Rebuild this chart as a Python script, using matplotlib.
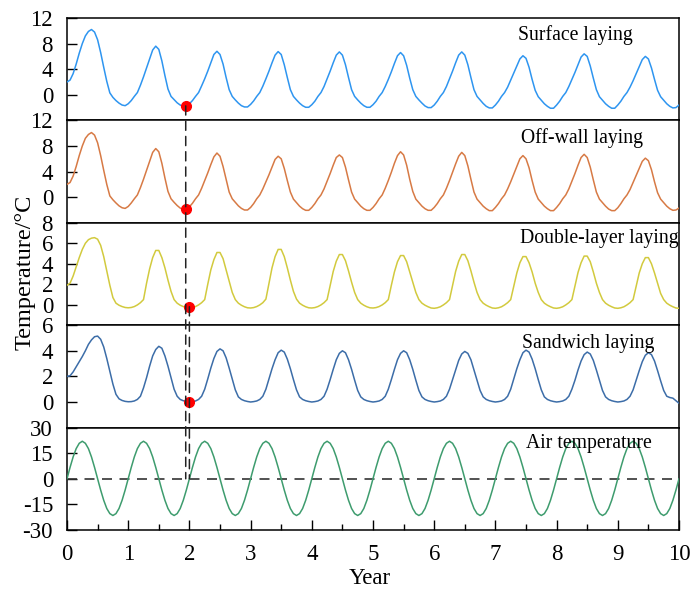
import numpy as np
import matplotlib
matplotlib.use("Agg")
import matplotlib.pyplot as plt
from matplotlib.patches import ConnectionPatch

plt.rcParams['font.family'] = ['Liberation Serif', 'DejaVu Serif']
plt.rcParams['axes.unicode_minus'] = False

# time axis: samples every 0.05 year from 0 to 10
years = np.round(np.arange(201) * 0.05, 2)

surface_laying = [
    2.0, 2.3, 3.3, 4.8, 6.5, 8.0, 9.2, 9.9, 10.2, 9.8, 8.6, 6.6, 4.3, 2.1, 0.3, -0.4, -0.9, -1.3, -1.6, -1.7,
    -1.4, -0.9, -0.25, 0.35, 1.5, 2.8, 4.2, 5.6, 7.0, 7.6, 7.1, 5.3, 3.0, 0.9, -0.25, -0.75, -1.25, -1.6, -1.8, -1.75,
    -1.4, -0.9, -0.25, 0.35, 1.4, 2.5, 3.7, 5.0, 6.3, 6.8, 6.3, 4.8, 2.7, 0.8, -0.25, -0.8, -1.3, -1.7, -1.9, -1.9,
    -1.5, -0.95, -0.25, 0.35, 1.35, 2.5, 3.7, 5.0, 6.2, 6.75, 6.3, 4.7, 2.7, 0.8, -0.25, -0.8, -1.3, -1.7, -1.95, -1.95,
    -1.55, -1.0, -0.25, 0.35, 1.3, 2.5, 3.7, 5.0, 6.2, 6.7, 6.2, 4.7, 2.7, 0.8, -0.25, -0.8, -1.3, -1.7, -1.95, -1.95,
    -1.55, -1.0, -0.25, 0.35, 1.3, 2.4, 3.6, 4.9, 6.1, 6.6, 6.1, 4.6, 2.6, 0.8, -0.25, -0.8, -1.3, -1.75, -2.0, -2.0,
    -1.6, -1.0, -0.25, 0.35, 1.3, 2.5, 3.7, 5.0, 6.2, 6.7, 6.2, 4.7, 2.7, 0.8, -0.25, -0.8, -1.35, -1.8, -2.05, -2.05,
    -1.6, -1.0, -0.25, 0.35, 1.2, 2.3, 3.4, 4.5, 5.6, 6.1, 5.7, 4.3, 2.4, 0.7, -0.3, -0.85, -1.4, -1.8, -2.1, -2.1,
    -1.6, -1.0, -0.25, 0.35, 1.3, 2.4, 3.5, 4.7, 5.9, 6.4, 6.0, 4.5, 2.6, 0.8, -0.3, -0.85, -1.4, -1.8, -2.1, -2.1,
    -1.6, -1.0, -0.25, 0.35, 1.2, 2.2, 3.3, 4.4, 5.5, 6.0, 5.6, 4.2, 2.4, 0.7, -0.3, -0.85, -1.4, -1.8, -2.05, -2.0,
    -1.6,
]

off_wall_laying = [
    2.0, 2.3, 3.3, 4.8, 6.5, 8.0, 9.2, 9.8, 10.1, 9.7, 8.5, 6.5, 4.2, 2.0, 0.2, -0.4, -0.9, -1.35, -1.65, -1.75,
    -1.45, -0.9, -0.25, 0.35, 1.5, 2.8, 4.2, 5.6, 7.0, 7.6, 7.1, 5.3, 3.0, 0.9, -0.25, -0.8, -1.3, -1.7, -1.95, -1.9,
    -1.5, -0.95, -0.25, 0.35, 1.4, 2.6, 3.8, 5.1, 6.3, 6.9, 6.4, 4.8, 2.8, 0.8, -0.25, -0.8, -1.35, -1.75, -2.0, -2.0,
    -1.6, -1.0, -0.25, 0.35, 1.3, 2.4, 3.5, 4.7, 5.9, 6.4, 6.0, 4.5, 2.6, 0.8, -0.3, -0.85, -1.4, -1.8, -2.05, -2.05,
    -1.6, -1.0, -0.25, 0.35, 1.3, 2.5, 3.7, 5.0, 6.2, 6.6, 6.2, 4.7, 2.7, 0.8, -0.3, -0.85, -1.4, -1.8, -2.05, -2.05,
    -1.6, -1.0, -0.25, 0.35, 1.4, 2.6, 3.9, 5.3, 6.5, 7.1, 6.6, 5.0, 2.8, 0.9, -0.3, -0.85, -1.4, -1.8, -2.05, -2.05,
    -1.6, -1.0, -0.25, 0.35, 1.4, 2.6, 3.9, 5.2, 6.4, 7.0, 6.5, 4.9, 2.8, 0.8, -0.3, -0.85, -1.4, -1.8, -2.1, -2.1,
    -1.6, -1.0, -0.25, 0.35, 1.3, 2.4, 3.6, 4.8, 6.0, 6.5, 6.0, 4.6, 2.6, 0.8, -0.3, -0.85, -1.4, -1.8, -2.1, -2.1,
    -1.6, -1.0, -0.25, 0.35, 1.3, 2.5, 3.7, 5.0, 6.2, 6.7, 6.2, 4.7, 2.7, 0.8, -0.3, -0.85, -1.4, -1.85, -2.1, -2.1,
    -1.65, -1.0, -0.25, 0.35, 1.2, 2.3, 3.4, 4.5, 5.6, 6.1, 5.7, 4.3, 2.4, 0.7, -0.3, -0.85, -1.4, -1.8, -2.05, -2.0,
    -1.7,
]

double_layer_laying = [
    1.9, 2.1, 2.8, 3.7, 4.6, 5.4, 6.0, 6.35, 6.5, 6.55, 6.4, 5.8, 4.7, 3.3, 1.9, 0.7, 0.15, -0.05, -0.18, -0.27,
    -0.3, -0.27, -0.18, -0.02, 0.2, 0.5, 2.1, 3.5, 4.6, 5.3, 5.3, 4.6, 3.6, 2.4, 1.3, 0.5, 0.15, -0.05, -0.18, -0.27,
    -0.3, -0.27, -0.18, -0.02, 0.2, 0.5, 2.0, 3.4, 4.4, 5.1, 5.1, 4.5, 3.4, 2.3, 1.2, 0.5, 0.15, -0.05, -0.2, -0.3,
    -0.32, -0.28, -0.18, -0.02, 0.2, 0.55, 2.1, 3.6, 4.7, 5.4, 5.4, 4.7, 3.6, 2.4, 1.3, 0.55, 0.15, -0.05, -0.2, -0.3,
    -0.32, -0.28, -0.18, -0.02, 0.2, 0.5, 1.9, 3.25, 4.25, 4.9, 4.9, 4.3, 3.3, 2.2, 1.2, 0.5, 0.15, -0.05, -0.2, -0.3,
    -0.32, -0.28, -0.18, -0.02, 0.2, 0.5, 1.9, 3.2, 4.2, 4.8, 4.8, 4.2, 3.2, 2.2, 1.2, 0.5, 0.15, -0.05, -0.2, -0.32,
    -0.35, -0.3, -0.2, -0.02, 0.2, 0.5, 1.9, 3.25, 4.25, 4.9, 4.9, 4.3, 3.3, 2.2, 1.2, 0.5, 0.15, -0.05, -0.2, -0.32,
    -0.35, -0.3, -0.2, -0.02, 0.2, 0.5, 1.8, 3.1, 4.1, 4.7, 4.7, 4.1, 3.2, 2.1, 1.2, 0.5, 0.15, -0.05, -0.2, -0.32,
    -0.35, -0.3, -0.2, -0.02, 0.2, 0.5, 1.85, 3.15, 4.1, 4.75, 4.75, 4.2, 3.2, 2.1, 1.2, 0.5, 0.15, -0.05, -0.2, -0.32,
    -0.35, -0.3, -0.2, -0.02, 0.2, 0.5, 1.8, 3.1, 4.0, 4.6, 4.6, 4.0, 3.1, 2.1, 1.1, 0.5, 0.15, -0.05, -0.2, -0.32,
    -0.35,
]

sandwich_laying = [
    2.0, 2.05, 2.35, 2.75, 3.15, 3.55, 4.0, 4.5, 4.85, 5.1, 5.15, 4.9, 4.3, 3.4, 2.4, 1.4, 0.6, 0.25, 0.12, 0.05,
    0.02, 0.03, 0.08, 0.2, 0.45, 1.1, 1.9, 2.8, 3.6, 4.1, 4.35, 4.2, 3.6, 2.8, 1.9, 1.0, 0.45, 0.2, 0.1, 0.05,
    0.0, 0.03, 0.08, 0.2, 0.45, 1.0, 1.8, 2.65, 3.4, 3.95, 4.15, 4.0, 3.45, 2.65, 1.8, 0.95, 0.4, 0.2, 0.1, 0.04,
    0.0, 0.03, 0.08, 0.2, 0.45, 1.0, 1.8, 2.6, 3.3, 3.85, 4.05, 3.9, 3.35, 2.6, 1.75, 0.95, 0.4, 0.2, 0.1, 0.04,
    0.0, 0.03, 0.08, 0.2, 0.45, 1.0, 1.75, 2.55, 3.3, 3.8, 4.0, 3.85, 3.3, 2.55, 1.7, 0.9, 0.4, 0.2, 0.1, 0.04,
    0.0, 0.03, 0.08, 0.2, 0.45, 1.0, 1.75, 2.55, 3.3, 3.8, 4.0, 3.85, 3.3, 2.55, 1.7, 0.9, 0.4, 0.2, 0.1, 0.04,
    0.0, 0.03, 0.08, 0.2, 0.45, 1.0, 1.75, 2.5, 3.25, 3.75, 3.95, 3.8, 3.3, 2.5, 1.7, 0.9, 0.4, 0.2, 0.1, 0.04,
    0.0, 0.03, 0.08, 0.2, 0.45, 1.0, 1.8, 2.6, 3.3, 3.85, 4.05, 3.9, 3.35, 2.6, 1.75, 0.95, 0.4, 0.2, 0.1, 0.04,
    0.0, 0.03, 0.08, 0.2, 0.45, 1.0, 1.7, 2.5, 3.2, 3.7, 3.9, 3.75, 3.25, 2.5, 1.7, 0.9, 0.4, 0.2, 0.1, 0.04,
    0.0, 0.03, 0.08, 0.2, 0.45, 0.95, 1.7, 2.45, 3.15, 3.65, 3.85, 3.7, 3.2, 2.45, 1.65, 0.9, 0.45, 0.35, 0.3, 0.1,
    -0.1,
]

air_temperature = [
    0.0, 6.7, 12.8, 17.7, 20.8, 22.0, 20.8, 17.7, 12.8, 6.7, 0.0, -6.6, -12.6, -17.4, -20.4, -21.5, -20.4, -17.4, -12.6, -6.6,
    0.0, 6.7, 12.8, 17.7, 20.8, 22.0, 20.8, 17.7, 12.8, 6.7, 0.0, -6.6, -12.6, -17.4, -20.4, -21.5, -20.4, -17.4, -12.6, -6.6,
    0.0, 6.7, 12.8, 17.7, 20.8, 22.0, 20.8, 17.7, 12.8, 6.7, 0.0, -6.6, -12.6, -17.4, -20.4, -21.5, -20.4, -17.4, -12.6, -6.6,
    0.0, 6.7, 12.8, 17.7, 20.8, 22.0, 20.8, 17.7, 12.8, 6.7, 0.0, -6.6, -12.6, -17.4, -20.4, -21.5, -20.4, -17.4, -12.6, -6.6,
    0.0, 6.7, 12.8, 17.7, 20.8, 22.0, 20.8, 17.7, 12.8, 6.7, 0.0, -6.6, -12.6, -17.4, -20.4, -21.5, -20.4, -17.4, -12.6, -6.6,
    0.0, 6.7, 12.8, 17.7, 20.8, 22.0, 20.8, 17.7, 12.8, 6.7, 0.0, -6.6, -12.6, -17.4, -20.4, -21.5, -20.4, -17.4, -12.6, -6.6,
    0.0, 6.7, 12.8, 17.7, 20.8, 22.0, 20.8, 17.7, 12.8, 6.7, 0.0, -6.6, -12.6, -17.4, -20.4, -21.5, -20.4, -17.4, -12.6, -6.6,
    0.0, 6.7, 12.8, 17.7, 20.8, 22.0, 20.8, 17.7, 12.8, 6.7, 0.0, -6.6, -12.6, -17.4, -20.4, -21.5, -20.4, -17.4, -12.6, -6.6,
    0.0, 6.7, 12.8, 17.7, 20.8, 22.0, 20.8, 17.7, 12.8, 6.7, 0.0, -6.6, -12.6, -17.4, -20.4, -21.5, -20.4, -17.4, -12.6, -6.6,
    0.0, 6.7, 12.8, 17.7, 20.8, 22.0, 20.8, 17.7, 12.8, 6.7, 0.0, -6.6, -12.6, -17.4, -20.4, -21.5, -20.4, -17.4, -12.6, -6.6,
    0.0,
]

panel_titles = ["Surface laying", "Off-wall laying", "Double-layer laying",
                "Sandwich laying", "Air temperature"]
panel_ylims = [(-4, 12), (-4, 12), (-2, 8), (-2, 6), (-30, 30)]
panel_yticks = [[0, 4, 8, 12], [0, 4, 8, 12], [0, 2, 4, 6, 8], [0, 2, 4, 6], [-30, -15, 0, 15, 30]]
x_ticks = [0, 1, 2, 3, 4, 5, 6, 7, 8, 9, 10]

# red marker points (year, temperature) for panels 1-4
marker_years = [1.94, 1.94, 2.0, 2.0]
marker_temps = [-1.73, -1.92, -0.2, 0.0]

series = [surface_laying, off_wall_laying, double_layer_laying, sandwich_laying, air_temperature]
colors = ["#2E95F0", "#D77A45", "#D2CA3E", "#3C6DA8", "#3E9C6E"]
title_pos = [(0.830, 0.833), (0.842, 0.826), (0.870, 0.842), (0.852, 0.822), (0.853, 0.843)]

fig = plt.figure(figsize=(7, 5.9), dpi=100)
gs = fig.add_gridspec(5, 1, left=67/700, right=679/700, top=1-18/590, bottom=1-530/590, hspace=0)
axes = [fig.add_subplot(gs[i]) for i in range(5)]

for i, ax in enumerate(axes):
    ax.plot(years, series[i], color=colors[i], lw=1.1, zorder=3)
    ax.set_xlim(0, 10)
    ax.set_ylim(*panel_ylims[i])
    ax.set_yticks(panel_yticks[i])
    ax.tick_params(axis='y', direction='in', length=7, width=1.0, labelsize=16.5, pad=10)
    for s in ax.spines.values():
        s.set_linewidth(1.1)
    ax.text(title_pos[i][0], title_pos[i][1], panel_titles[i], transform=ax.transAxes,
            ha='center', va='center', fontsize=14.2, zorder=5)
    if i < 4:
        ax.tick_params(axis='x', bottom=False, labelbottom=False)
    for lab in ax.get_yticklabels():
        lab.set_clip_on(False)

ax5 = axes[4]
ax5.set_xticks(x_ticks)
ax5.set_xticks(np.arange(0.5, 10, 1.0), minor=True)
ax5.tick_params(axis='x', which='major', direction='in', length=7, width=1.0, labelsize=16.5, pad=10)
ax5.tick_params(axis='x', which='minor', direction='in', length=4, width=1.0)
ax5.axhline(0, color='#333333', lw=1.2, ls=(0, (6, 4.5)), zorder=2)

for i in range(4):
    axes[i].plot(marker_years[i], marker_temps[i], 'o', color='#FF0000', ms=7, zorder=6, clip_on=False)

# dashed guide lines from the red markers to the zero line of the air temperature panel
for src_ax, xm, ym in [(axes[0], marker_years[0], marker_temps[0]), (axes[2], marker_years[2], marker_temps[2])]:
    con = ConnectionPatch(xyA=(xm, ym), coordsA=src_ax.transData,
                          xyB=(xm, 0), coordsB=ax5.transData,
                          color='#222222', lw=1.1, ls=(0, (6, 4)), zorder=4)
    fig.add_artist(con)

fig.text(25/700, 1-272/590, "Temperature/°C", rotation=90, ha='center', va='center', fontsize=17.5)
fig.text(370/700, 1-578/590, "Year", ha='center', va='center', fontsize=16.5)

fig.savefig("out.png", dpi=100)
